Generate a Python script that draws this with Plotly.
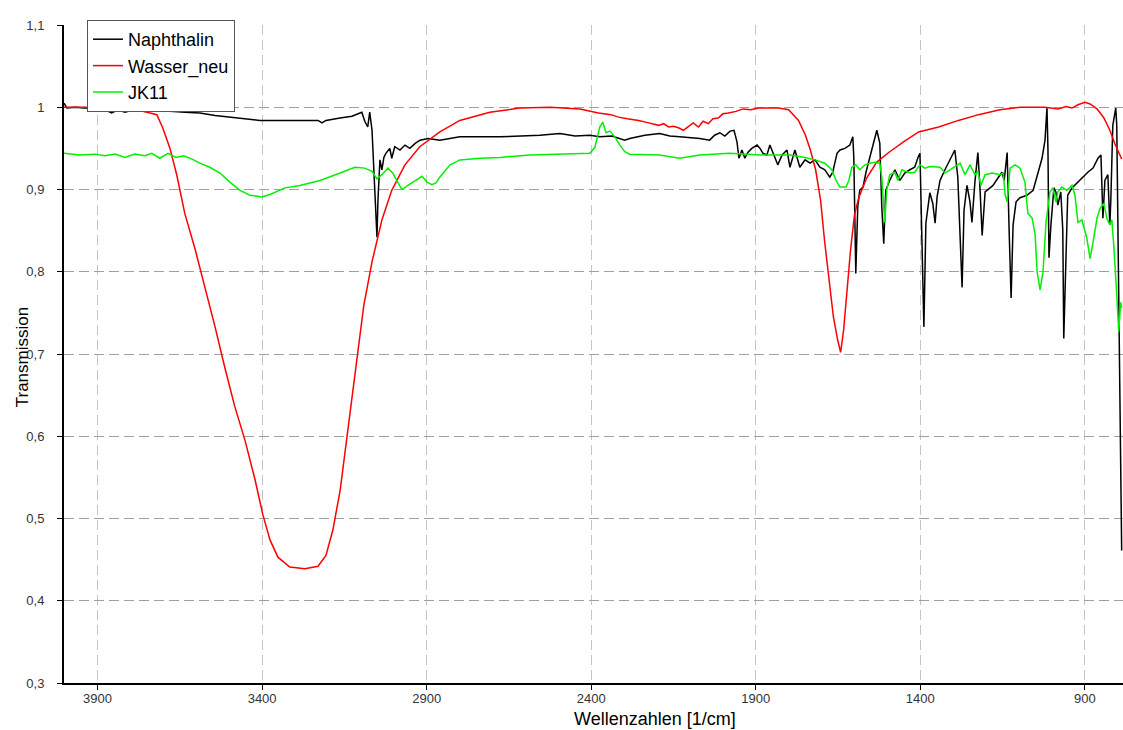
import plotly.graph_objects as go

# ---- data ----
naph_wn = [4002, 3993, 3969, 3939, 3908, 3878, 3857, 3838, 3817, 3787,
           3756, 3741, 3726, 3680, 3635, 3589, 3543, 3498, 3452, 3407,
           3346, 3285, 3230, 3218, 3206, 3163, 3127, 3097, 3088, 3079,
           3073, 3066, 3060, 3054, 3051, 3048, 3042, 3036, 3030, 3024,
           3012, 3006, 2997, 2981, 2966, 2951, 2935, 2920, 2896, 2860,
           2799, 2678, 2556, 2495, 2449, 2404, 2374, 2337, 2298, 2283,
           2237, 2192, 2161, 2131, 2070, 2040, 2025, 2009, 1994, 1978,
           1966, 1957, 1951, 1942, 1933, 1924, 1912, 1896, 1887, 1878,
           1866, 1857, 1842, 1833, 1820, 1805, 1796, 1781, 1766, 1750,
           1735, 1720, 1705, 1690, 1675, 1666, 1653, 1644, 1629, 1614,
           1605, 1602, 1596, 1590, 1584, 1574, 1565, 1553, 1538, 1532,
           1523, 1517, 1511, 1505, 1493, 1477, 1462, 1447, 1432, 1417,
           1407, 1401, 1395, 1389, 1383, 1371, 1362, 1355, 1349, 1340,
           1325, 1310, 1295, 1286, 1279, 1273, 1267, 1258, 1249, 1243,
           1234, 1225, 1219, 1212, 1203, 1188, 1179, 1164, 1152, 1145,
           1136, 1130, 1124, 1118, 1109, 1097, 1076, 1057, 1042, 1030,
           1021, 1015, 1012, 1009, 1003, 994, 988, 982, 973, 967,
           964, 958, 952, 939, 924, 906, 891, 875, 860, 851,
           845, 839, 830, 824, 821, 815, 806, 803, 800, 797,
           794, 791, 788]
naph_t = [1.005, 0.999, 1.000, 0.999, 0.999, 0.997, 0.993, 0.997, 0.994, 0.997,
          0.995, 0.999, 0.995, 0.995, 0.994, 0.993, 0.990, 0.988, 0.986, 0.984,
          0.984, 0.984, 0.984, 0.981, 0.984, 0.987, 0.989, 0.994, 0.983, 0.976,
          0.994, 0.972, 0.920, 0.869, 0.842, 0.887, 0.936, 0.924, 0.939, 0.944,
          0.950, 0.938, 0.952, 0.948, 0.954, 0.950, 0.956, 0.960, 0.962, 0.960,
          0.964, 0.964, 0.966, 0.968, 0.965, 0.966, 0.964, 0.965, 0.960, 0.962,
          0.966, 0.968, 0.965, 0.964, 0.962, 0.960, 0.966, 0.969, 0.965, 0.971,
          0.972, 0.958, 0.938, 0.948, 0.938, 0.945, 0.950, 0.954, 0.950, 0.944,
          0.942, 0.954, 0.938, 0.930, 0.942, 0.948, 0.927, 0.948, 0.927, 0.936,
          0.932, 0.936, 0.927, 0.924, 0.915, 0.921, 0.944, 0.948, 0.950, 0.954,
          0.964, 0.939, 0.798, 0.879, 0.899, 0.903, 0.921, 0.939, 0.960, 0.972,
          0.956, 0.879, 0.834, 0.899, 0.911, 0.924, 0.911, 0.920, 0.924, 0.927,
          0.939, 0.944, 0.838, 0.733, 0.859, 0.896, 0.883, 0.859, 0.891, 0.911,
          0.924, 0.936, 0.948, 0.915, 0.851, 0.781, 0.875, 0.905, 0.885, 0.860,
          0.909, 0.945, 0.905, 0.844, 0.897, 0.902, 0.905, 0.914, 0.921, 0.911,
          0.945, 0.850, 0.768, 0.857, 0.885, 0.890, 0.893, 0.899, 0.921, 0.938,
          0.960, 0.999, 0.948, 0.817, 0.857, 0.902, 0.897, 0.881, 0.897, 0.851,
          0.719, 0.814, 0.893, 0.902, 0.908, 0.914, 0.921, 0.926, 0.938, 0.942,
          0.865, 0.911, 0.918, 0.857, 0.887, 0.978, 0.999, 0.978, 0.887, 0.727,
          0.650, 0.571, 0.461]

water_wn = [4002, 3893, 3762, 3720, 3702, 3680, 3659, 3635, 3604, 3574,
            3543, 3513, 3483, 3452, 3422, 3398, 3376, 3352, 3316, 3270,
            3230, 3206, 3185,
            3163, 3139, 3115, 3091, 3066, 3036, 3006, 2966, 2921, 2860,
            2799, 2708, 2617, 2525, 2434, 2378, 2340, 2317, 2290, 2256,
            2225, 2195, 2180, 2165, 2150, 2135, 2120, 2105, 2090, 2074,
            2060, 2044, 2030, 2014, 2000, 1983, 1960, 1938, 1915, 1892,
            1860, 1831, 1800, 1770, 1749, 1734, 1718, 1703, 1691, 1679,
            1664, 1651, 1642, 1633, 1624, 1612, 1600, 1587, 1563, 1533,
            1496, 1451, 1405, 1344, 1284, 1223, 1158, 1097, 1021, 981,
            957, 939, 921, 900, 884, 863, 842, 824, 809, 794,
            788]
water_t = [1.000, 1.000, 0.995, 0.991, 0.975, 0.950, 0.917, 0.871, 0.828, 0.782,
           0.733, 0.683, 0.636, 0.595, 0.548, 0.505, 0.474, 0.453, 0.441, 0.439,
           0.442, 0.455, 0.486,
           0.534, 0.607, 0.686, 0.759, 0.812, 0.863, 0.899, 0.930, 0.952, 0.970,
           0.984, 0.994, 0.999, 1.000, 0.998, 0.993, 0.991, 0.988, 0.986, 0.984,
           0.981, 0.978, 0.980, 0.976, 0.977, 0.975, 0.972, 0.977, 0.981, 0.976,
           0.983, 0.980, 0.986, 0.987, 0.992, 0.993, 0.995, 0.998, 0.997, 0.999,
           0.999, 0.999, 0.997, 0.984, 0.966, 0.948, 0.924, 0.887, 0.838, 0.793,
           0.745, 0.717, 0.702, 0.729, 0.772, 0.826, 0.869, 0.890, 0.914, 0.933,
           0.945, 0.958, 0.970, 0.976, 0.984, 0.991, 0.997, 1.000, 1.000, 0.998,
           1.001, 0.999, 1.003, 1.006, 1.004, 0.998, 0.987, 0.972, 0.956, 0.942,
           0.937]

jk11_wn = [4002, 3954, 3908, 3878, 3847, 3817, 3787, 3756, 3735, 3711,
           3686, 3662, 3638, 3613, 3589, 3559, 3528, 3498, 3467, 3437,
           3401, 3376, 3331, 3285, 3255, 3224, 3163, 3118, 3088, 3066,
           3051, 3036, 3018, 3003, 2987, 2975, 2957, 2936, 2914, 2899,
           2884, 2872, 2860, 2829, 2799, 2738, 2677, 2586, 2495, 2404,
           2389, 2374, 2365, 2355, 2343, 2328, 2313, 2298, 2283, 2192,
           2131, 2070, 1979, 1887, 1796, 1750, 1720, 1690, 1669, 1656,
           1644, 1626, 1617, 1608, 1596, 1584, 1568, 1553, 1538, 1523,
           1517, 1508, 1502, 1493, 1477, 1468, 1456, 1432, 1417, 1401,
           1386, 1371, 1340, 1325, 1310, 1279, 1264, 1249, 1234, 1225,
           1216, 1203, 1182, 1158, 1148, 1142, 1136, 1127, 1112, 1097,
           1082, 1073, 1060, 1051, 1045, 1036, 1027, 1018, 1006, 997,
           988, 982, 970, 955, 939, 930, 921, 909, 894, 884,
           875, 863, 854, 842, 833, 824, 818, 812, 803, 797,
           791, 788]
jk11_t = [0.944, 0.942, 0.943, 0.941, 0.943, 0.939, 0.943, 0.941, 0.944, 0.938,
          0.944, 0.939, 0.941, 0.937, 0.932, 0.927, 0.920, 0.909, 0.899, 0.893,
          0.891, 0.894, 0.902, 0.905, 0.908, 0.911, 0.920, 0.927, 0.926, 0.922,
          0.913, 0.918, 0.926, 0.920, 0.908, 0.900, 0.905, 0.910, 0.916, 0.909,
          0.906, 0.908, 0.915, 0.930, 0.936, 0.938, 0.939, 0.942, 0.943, 0.944,
          0.951, 0.976, 0.982, 0.969, 0.971, 0.964, 0.954, 0.946, 0.943, 0.942,
          0.938, 0.942, 0.944, 0.942, 0.942, 0.939, 0.936, 0.932, 0.924, 0.911,
          0.903, 0.903, 0.911, 0.927, 0.930, 0.924, 0.930, 0.932, 0.933, 0.932,
          0.915, 0.860, 0.899, 0.918, 0.921, 0.911, 0.924, 0.920, 0.921, 0.930,
          0.926, 0.928, 0.927, 0.920, 0.924, 0.932, 0.918, 0.930, 0.918, 0.922,
          0.905, 0.918, 0.920, 0.918, 0.920, 0.893, 0.885, 0.926, 0.930, 0.926,
          0.909, 0.871, 0.865, 0.845, 0.800, 0.778, 0.800, 0.860, 0.897, 0.902,
          0.885, 0.897, 0.903, 0.899, 0.905, 0.893, 0.860, 0.863, 0.841, 0.816,
          0.836, 0.865, 0.877, 0.883, 0.865, 0.857, 0.863, 0.832, 0.772, 0.727,
          0.763, 0.756]

x_ticks = [3900, 3400, 2900, 2400, 1900, 1400, 900]
x_ticklabels = ["3900", "3400", "2900", "2400", "1900", "1400", "900"]
y_ticks = [0.3, 0.4, 0.5, 0.6, 0.7, 0.8, 0.9, 1.0, 1.1]
y_ticklabels = ["0,3", "0,4", "0,5", "0,6", "0,7", "0,8", "0,9", "1", "1,1"]

FONT = "Liberation Sans, Arial, sans-serif"

fig = go.Figure()
fig.add_trace(go.Scatter(x=naph_wn, y=naph_t, mode="lines", name="Naphthalin",
                         line=dict(color="#000000", width=1.5)))
fig.add_trace(go.Scatter(x=water_wn, y=water_t, mode="lines", name="Wasser_neu",
                         line=dict(color="#ff0000", width=1.5)))
fig.add_trace(go.Scatter(x=jk11_wn, y=jk11_t, mode="lines", name="JK11",
                         line=dict(color="#00f000", width=1.5)))

fig.update_layout(
    width=1123, height=730,
    margin=dict(l=64, r=0, t=25, b=47),
    paper_bgcolor="white", plot_bgcolor="white",
    font=dict(family=FONT, color="#000000"),
    showlegend=True,
    hovermode=False,
    legend=dict(x=0.0217, y=1.0076, xanchor="left", yanchor="top",
                bgcolor="white", bordercolor="#555555", borderwidth=1,
                font=dict(family=FONT, size=18, color="#000000"),
                tracegroupgap=0),
    xaxis=dict(range=[4002, 784], tickvals=x_ticks, ticktext=x_ticklabels,
               showline=True, linecolor="#000000", linewidth=2,
               ticks="outside", ticklen=5, tickcolor="#000000", tickwidth=1,
               ticklabelstandoff=-3,
               tickfont=dict(family=FONT, size=13, color="#333333"),
               showgrid=True, gridcolor="#c4c4c4", gridwidth=1, griddash="10px,5px",
               zeroline=False),
    yaxis=dict(range=[0.3, 1.1], tickvals=y_ticks, ticktext=y_ticklabels,
               showline=True, linecolor="#000000", linewidth=2,
               ticks="outside", ticklen=5, tickcolor="#000000", tickwidth=1,
               ticklabelstandoff=10,
               tickfont=dict(family=FONT, size=13, color="#333333"),
               showgrid=True, gridcolor="#a0a0a0", gridwidth=1, griddash="10px,5px",
               zeroline=False),
    annotations=[
        dict(text="Transmission", xref="paper", yref="paper", x=-0.0397, y=0.495,
             xanchor="center", yanchor="middle", textangle=-90, showarrow=False,
             font=dict(family=FONT, size=17, color="#000000")),
        dict(text="Wellenzahlen [1/cm]", xref="paper", yref="paper", x=0.558, y=-0.054,
             xanchor="center", yanchor="middle", showarrow=False,
             font=dict(family=FONT, size=18, color="#000000")),
    ],
)

# remove the default page margin / scrollbars so the figure fills the window exactly
page_fix = ("document.documentElement.style.overflow='hidden';"
            "document.body.style.margin='0';"
            "document.body.style.overflow='hidden';")

fig.write_html("out.html", post_script=page_fix,
               config={"displayModeBar": False, "staticPlot": True})
